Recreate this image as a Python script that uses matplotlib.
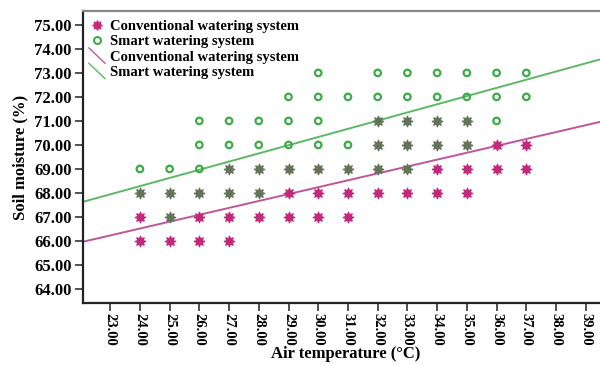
import matplotlib
matplotlib.use("Agg")
import matplotlib.pyplot as plt
from matplotlib.legend_handler import HandlerBase
from matplotlib.lines import Line2D
import numpy as np

plt.rcParams['font.family'] = ['Liberation Serif', 'DejaVu Serif']
plt.rcParams['font.weight'] = 'bold'

# air temperature (°C) -> soil moisture readings (%) for each system
temps = [24, 25, 26, 27, 28, 29, 30, 31, 32, 33, 34, 35, 36, 37]
conventional = [
    [66, 67, 68], [66, 67, 68], [66, 67, 68], [66, 67, 68, 69],
    [67, 68, 69], [67, 68, 69], [67, 68, 69], [67, 68, 69],
    [68, 69, 70, 71], [68, 69, 70, 71], [68, 69, 70, 71], [68, 69, 70, 71],
    [69, 70], [69, 70],
]
smart = [
    [68, 69], [67, 68, 69], [68, 69, 70, 71], [68, 69, 70, 71],
    [68, 69, 70, 71], [69, 70, 71, 72], [69, 70, 71, 72, 73], [69, 70, 72],
    [69, 70, 71, 72, 73], [69, 70, 71, 72, 73], [70, 71, 72, 73], [70, 71, 72, 73],
    [71, 72, 73], [72, 73],
]
# linear fit lines (slope, intercept)
conv_fit = (0.287, 59.63)
smart_fit = (0.341, 60.10)

x_ticks = np.arange(23, 40)
y_ticks = np.arange(64, 76)

PINK = '#c2287c'
GREEN = '#3dab48'
SHARED = '#627358'
PINK_LINE = '#c0569a'
GREEN_LINE = '#5db864'


def flatten(xs, groups):
    return [(x, y) for x, g in zip(xs, groups) for y in g]


conv_pts = set(flatten(temps, conventional))
smart_pts = set(flatten(temps, smart))
both = sorted(conv_pts & smart_pts)
conv_only = sorted(conv_pts - smart_pts)
smart_only = sorted(smart_pts - conv_pts)


class DiagonalLine(HandlerBase):
    def create_artists(self, legend, orig_handle, xdescent, ydescent,
                       width, height, fontsize, trans):
        line = Line2D([-xdescent, width - xdescent],
                      [height * 1.25 - ydescent, -height * 0.25 - ydescent],
                      color=orig_handle.get_color(), lw=1.0)
        line.set_transform(trans)
        return [line]


fig = plt.figure(figsize=(6, 3.65), dpi=100)
ax = fig.add_axes([0.138, 0.170, 0.868, 0.800])

star = (8, 1, 0)
ax.scatter(*zip(*smart_only), marker='o', s=22, facecolors='none',
           edgecolors=GREEN, linewidths=1.6, zorder=3)
ax.scatter(*zip(*conv_only), marker=star, s=55, color=PINK, zorder=3)
ax.scatter(*zip(*both), marker=star, s=55, color=SHARED, zorder=3)

xl = np.array([22.08, 39.6])
ax.plot(xl, conv_fit[0] * xl + conv_fit[1], color=PINK_LINE, lw=1.4, zorder=2)
ax.plot(xl, smart_fit[0] * xl + smart_fit[1], color=GREEN_LINE, lw=1.4, zorder=2)

ax.set_xlim(22.08, 39.6)
ax.set_ylim(63.42, 75.58)
ax.set_xticks(x_ticks)
ax.set_xticklabels([f'{t:.2f}' for t in x_ticks], rotation=270, fontsize=10.5)
ax.set_yticks(y_ticks)
ax.set_yticklabels([f'{t:.2f}' for t in y_ticks], fontsize=12)
ax.tick_params(direction='out', length=6, width=1.2, color='#333333', pad=2)
ax.tick_params(axis='x', pad=1)

for side in ('left', 'bottom'):
    ax.spines[side].set_linewidth(1.6)
    ax.spines[side].set_color('#222222')
ax.spines['top'].set_color('#888888')
ax.spines['top'].set_linewidth(1.6)
ax.spines['right'].set_visible(False)

ax.set_xlabel('Air temperature (°C)', fontsize=12, fontweight='bold')
ax.xaxis.set_label_coords(0.505, -0.146)
ax.set_ylabel('Soil moisture (%)', fontsize=12, fontweight='bold', labelpad=4)

handles = [
    Line2D([], [], marker=star, linestyle='none', color=PINK, markersize=7),
    Line2D([], [], marker='o', linestyle='none', markerfacecolor='none',
           markeredgecolor=GREEN, markeredgewidth=1.5, markersize=5),
    Line2D([], [], color=PINK_LINE),
    Line2D([], [], color=GREEN_LINE),
]
labels = ['Conventional watering system', 'Smart watering system',
          'Conventional watering system', 'Smart watering system']
ax.legend(handles, labels, loc='upper left', bbox_to_anchor=(-0.005, 1.0),
          frameon=False, fontsize=10.5, handlelength=1.1, handletextpad=0.35,
          labelspacing=0.15, borderaxespad=0.2,
          handler_map={handles[2]: DiagonalLine(), handles[3]: DiagonalLine()})

fig.savefig('out.png', dpi=100)
